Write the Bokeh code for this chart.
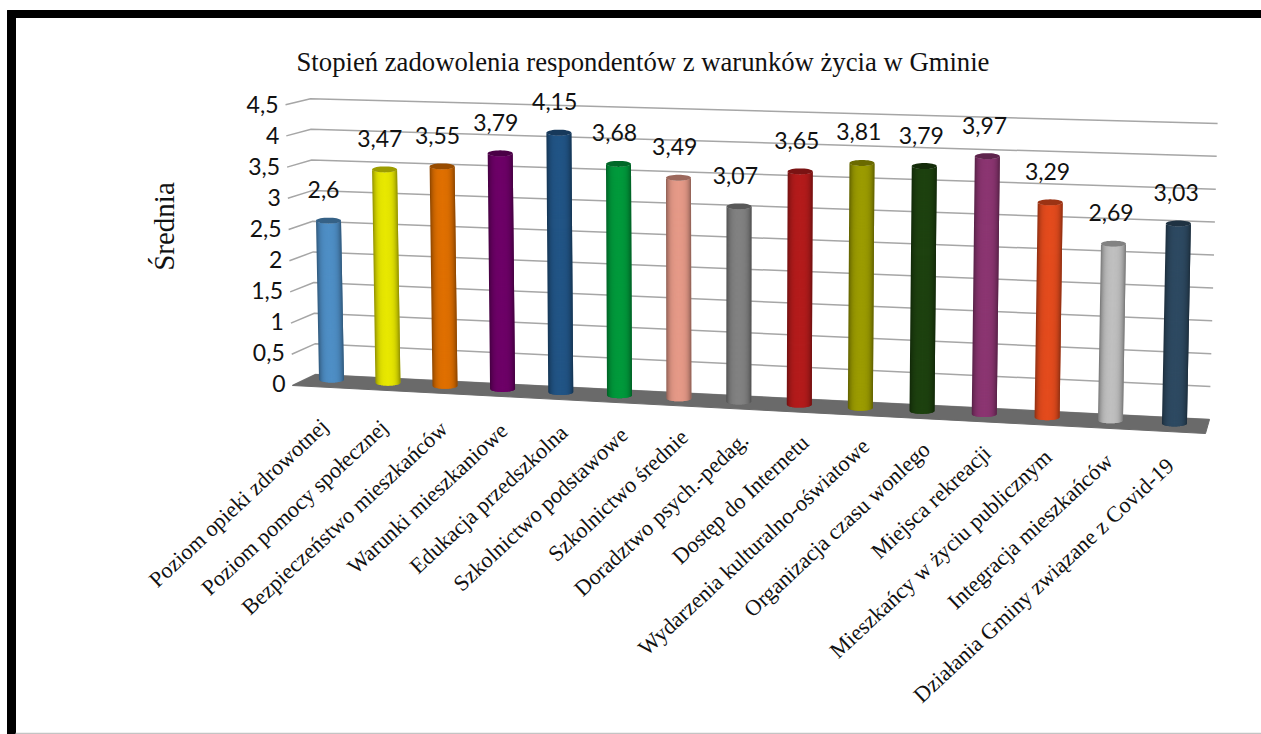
from bokeh.plotting import figure
from bokeh.models import Range1d
from bokeh.core.properties import value
from bokeh.embed import file_html
from bokeh.resources import INLINE
import math

title = "Stopień zadowolenia respondentów z warunków życia w Gminie"
y_title = "Średnia"
categories = ["Poziom opieki zdrowotnej", "Poziom pomocy społecznej", "Bezpieczeństwo mieszkańców",
              "Warunki mieszkaniowe", "Edukacja przedszkolna", "Szkolnictwo podstawowe",
              "Szkolnictwo średnie", "Doradztwo psych.-pedag.", "Dostęp do Internetu",
              "Wydarzenia kulturalno-oświatowe", "Organizacja czasu wonlego", "Miejsca rekreacji",
              "Mieszkańcy w życiu publicznym", "Integracja mieszkańców", "Działania Gminy związane z Covid-19"]
values = [2.6, 3.47, 3.55, 3.79, 4.15, 3.68, 3.49, 3.07, 3.65, 3.81, 3.79, 3.97, 3.29, 2.69, 3.03]
ticks = [0, 0.5, 1, 1.5, 2, 2.5, 3, 3.5, 4, 4.5]
colors = ["#4f8fc6", "#e8e800", "#e07000", "#6e0068", "#225586", "#009a3c", "#e69a88", "#828282",
          "#b41c1c", "#9c9c00", "#1e4210", "#8c3672", "#e44c1e", "#c0c0c0", "#2e4a62"]


def fmt(v):
    return f"{v:g}".replace(".", ",")


# projection of the chart's tilted 3-D box on to the page
def bar_base(i):
    return 331 + 56.15 * i + 0.29 * i * i, 379 + 3.14 * i


def bar_point(i, v):
    bx, by = bar_base(i)
    return bx + (-1.15 + 0.175 * i) * v, by - (61.1 + 0.35 * i) * v


def wall_left(v):
    return 315 - 1.1 * v, 374 - 61.3 * v


def wall_right(v):
    return 1209 + 1.8 * v, 419 - 65.8 * v


def front_left(v):
    return 292 - 1.55 * v, 385 - 62.4 * v


def label_anchor(i):
    return 324 + 59.65 * i + 0.055 * i * i, 422 + 1.11 * i + 0.122 * i * i


def shade(c, f):
    r, g, b = [int(c[k:k + 2], 16) for k in (1, 3, 5)]
    return "#%02x%02x%02x" % (int(r * f), int(g * f), int(b * f))


p = figure(width=1261, height=734, toolbar_location=None, output_backend="svg",
           x_range=Range1d(0, 1261), y_range=Range1d(734, 0), min_border=0,
           x_axis_type="linear", y_axis_type="linear")
p.axis.visible = False
p.grid.visible = False
p.outline_line_color = None
p.background_fill_color = "white"

# frame of the picture
p.quad(left=[7], right=[15], top=[10], bottom=[734], color="black")
p.quad(left=[7], right=[1261], top=[10], bottom=[17], color="black")
p.segment([15], [733], [1261], [733], line_color="#c4c4c4", line_width=1.5)

# grid on walls
xs, ys = [], []
for t in ticks:
    a, b, c = front_left(t), wall_left(t), wall_right(t)
    xs.append([a[0], b[0], c[0]])
    ys.append([a[1], b[1], c[1]])
p.multi_line(xs, ys, line_color="#a6a6a6", line_width=1.5)

# floor
fl, bl, br = front_left(0), wall_left(0), wall_right(0)
p.patch([fl[0], bl[0], br[0], 1205], [fl[1], bl[1], br[1], 433], color="#6a6a6a")

# cylinders: each strip overlaps the next, which paints over it
R, RY, N = 12.5, 3.0, 25
for i, (v, col) in enumerate(zip(values, colors)):
    bx, by = bar_base(i)
    tx, ty = bar_point(i, v)
    for k in range(N):
        u0 = -1 + 2 * k / N
        u1 = min(1.0, u0 + 2 * 2 / N)
        um = u0 + 1 / N
        f = 1.0 - 0.36 * abs(um) ** 3.5 - 0.03 * abs(um)
        us = [u0 + (u1 - u0) * m / 6 for m in range(7)]
        low = [RY * math.sqrt(max(0, 1 - u * u)) for u in us]
        p.patch([bx + R * u for u in us] + [tx + R * u for u in reversed(us)],
                [by + d for d in low] + [ty + d for d in reversed(low)],
                fill_color=shade(col, f), line_color=None)
    ex = [tx + R * math.cos(a * math.pi / 18) for a in range(36)]
    ey = [ty + RY * math.sin(a * math.pi / 18) for a in range(36)]
    p.patch(ex, ey, fill_color=shade(col, 0.68), line_color=None)

# value labels
lx, ly, lt = [], [], []
for i, v in enumerate(values):
    tx, ty = bar_point(i, v)
    lx.append(tx - 5 + 0.2 * i)
    ly.append(ty - 31)
    lt.append(fmt(v))
p.text(lx, ly, text=lt, text_font=value("Lato"), text_font_size="23px", text_color="#111111",
       text_align="center", text_baseline="middle")

# value axis labels
ax = [front_left(t)[0] - 7 for t in ticks]
ay = [383 - 62 * t for t in ticks]
p.text(ax, ay, text=[fmt(t) for t in ticks], text_font=value("Lato"), text_font_size="23px",
       text_color="#111111", text_align="right", text_baseline="middle")

# category labels
cx = [label_anchor(i)[0] for i in range(len(categories))]
cy = [label_anchor(i)[1] for i in range(len(categories))]
p.text(cx, cy, text=categories, angle=43, angle_units="deg", text_font=value("Liberation Serif"),
       text_font_size="22.3px", text_color="#111111", text_align="right", text_baseline="middle")

# titles
p.text([642.5], [61], text=[title], text_font=value("Liberation Serif"), text_font_size="26.7px",
       text_color="#111111", text_align="center", text_baseline="middle")
p.text([163], [226], text=[y_title], angle=90, angle_units="deg", text_font=value("Liberation Serif"),
       text_font_size="29px", text_color="#111111", text_align="center", text_baseline="middle")

open("out.html", "w").write(file_html(p, INLINE))
